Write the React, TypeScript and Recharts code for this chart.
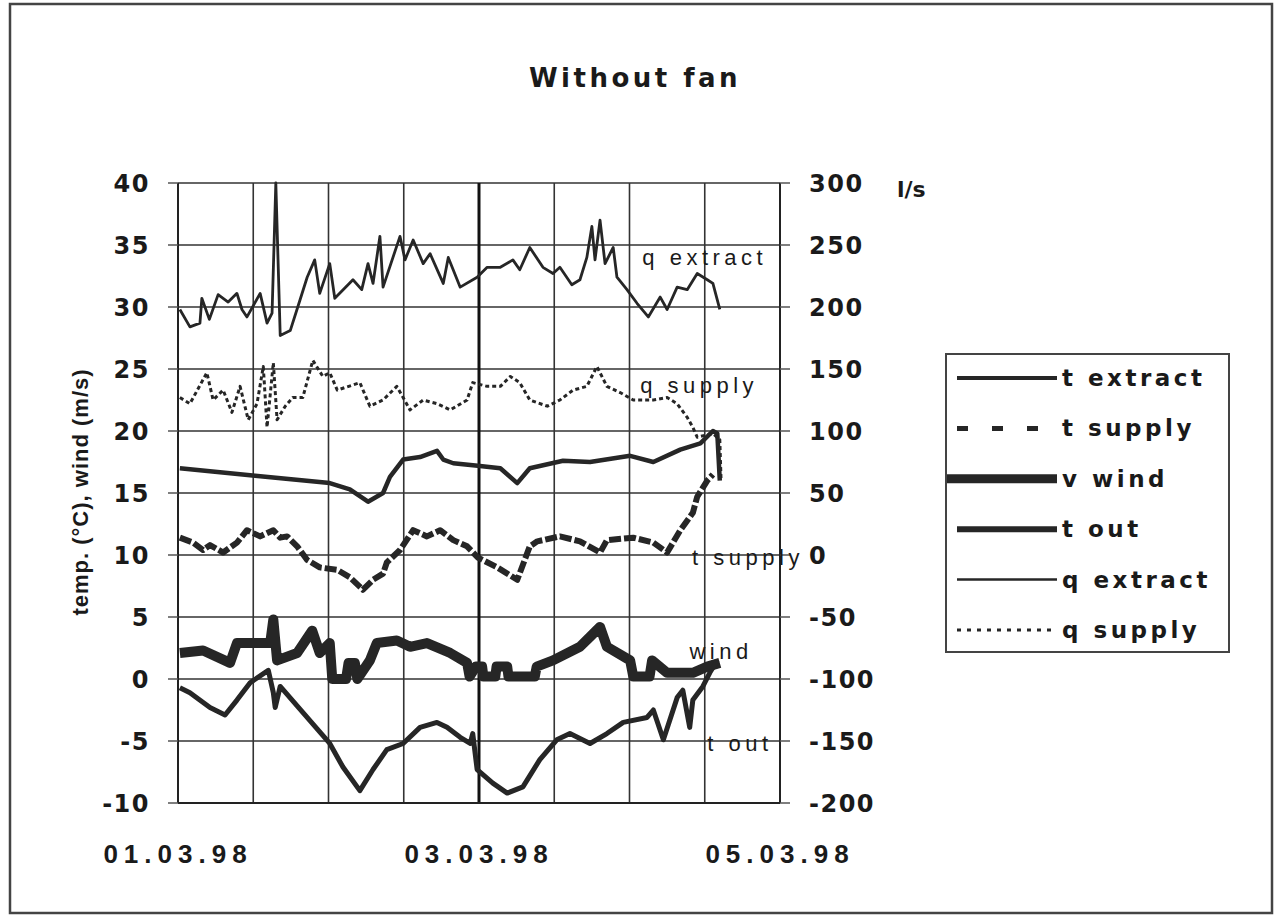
import React from 'react';
import {
  LineChart,
  Line,
  XAxis,
  YAxis,
  CartesianGrid,
  ReferenceLine,
  ReferenceDot,
  Legend,
} from 'recharts';

// ---- time axis (hours since 01.03.98 00:00) ----
const xTicks = [0, 12, 24, 36, 48, 60, 72, 84, 96];
const xTickLabels: Record<number, string> = { 0: '01.03.98', 48: '03.03.98', 96: '05.03.98' };
const leftTicks = [-10, -5, 0, 5, 10, 15, 20, 25, 30, 35, 40];
const rightTicks = [-200, -150, -100, -50, 0, 50, 100, 150, 200, 250, 300];

// ---- q extract (l/s, right axis) ----
const qExtractHours = [0.3, 1.9, 3.5, 3.8, 5.0, 6.4, 8.0, 9.4, 10.2, 11.0, 13.1, 14.2, 15.0, 15.6, 16.3, 17.9, 19.1, 20.6, 21.8, 22.6, 24.2, 25.0, 27.9, 29.3, 30.3, 31.1, 32.2, 32.7, 35.4, 36.2, 37.5, 39.1, 40.2, 42.3, 43.1, 45.0, 47.7, 49.3, 51.4, 53.4, 54.5, 56.1, 58.2, 59.8, 60.9, 62.8, 64.1, 65.2, 66.0, 66.5, 67.3, 68.1, 69.4, 70.0, 71.6, 73.2, 75.0, 76.9, 78.0, 79.6, 81.2, 82.8, 84.4, 85.3, 86.4];
const qExtractValues = [198, 184, 187, 207, 190, 210, 204, 211, 198, 192, 211, 187, 195, 300, 177, 181, 200, 224, 238, 211, 235, 207, 222, 214, 235, 219, 257, 216, 257, 238, 254, 235, 243, 219, 240, 216, 224, 232, 232, 238, 230, 248, 232, 227, 232, 218, 222, 240, 265, 238, 270, 235, 248, 224, 214, 203, 192, 208, 198, 216, 214, 227, 222, 219, 198];

// ---- q supply (l/s, right axis) ----
const qSupplyHours = [0.3, 1.9, 4.6, 5.6, 7.2, 8.6, 9.9, 11.2, 12.6, 13.6, 14.2, 15.2, 15.8, 17.1, 18.3, 19.9, 21.5, 23.1, 24.2, 25.4, 29.0, 30.6, 32.7, 34.9, 37.0, 39.1, 41.3, 43.4, 46.1, 47.0, 49.3, 51.4, 53.0, 54.5, 56.1, 58.9, 60.9, 63.0, 65.2, 66.8, 68.4, 70.5, 72.6, 75.8, 78.0, 79.6, 81.2, 82.1, 82.8, 85.3, 86.4, 86.6];
const qSupplyValues = [127, 122, 147, 125, 133, 115, 136, 109, 122, 152, 103, 155, 109, 120, 127, 127, 157, 144, 147, 133, 139, 120, 125, 136, 117, 125, 122, 117, 125, 139, 136, 136, 144, 139, 125, 120, 125, 133, 136, 152, 136, 131, 125, 125, 127, 122, 111, 103, 95, 98, 93, 60];

// ---- t extract (°C, left axis) ----
const tExtractHours = [0.3, 12.3, 24.2, 27.4, 30.3, 32.7, 33.8, 35.9, 38.6, 41.3, 42.3, 43.9, 47.8, 51.4, 54.1, 56.1, 61.4, 65.7, 72.1, 75.8, 80.1, 83.3, 85.3, 86.0, 86.4];
const tExtractValues = [17.0, 16.4, 15.8, 15.3, 14.3, 15.0, 16.3, 17.7, 17.9, 18.4, 17.7, 17.4, 17.2, 17.0, 15.8, 17.0, 17.6, 17.5, 18.0, 17.5, 18.5, 19.0, 20.0, 19.8, 16.0];

// ---- t supply (°C, left axis) ----
const tSupplyHours = [0.3, 2.4, 4.0, 5.1, 7.2, 9.4, 11.0, 13.1, 15.2, 16.3, 17.4, 19.0, 20.6, 22.6, 25.4, 27.4, 29.5, 31.1, 32.7, 33.3, 35.4, 37.5, 39.7, 41.8, 43.9, 46.1, 47.8, 50.9, 54.1, 56.1, 57.3, 60.9, 64.1, 67.3, 68.4, 72.6, 75.8, 78.0, 80.1, 82.1, 82.8, 84.4, 85.3];
const tSupplyValues = [11.4, 11.0, 10.4, 10.8, 10.2, 11.0, 12.0, 11.5, 12.0, 11.4, 11.5, 10.7, 9.6, 9.0, 8.8, 8.2, 7.2, 8.0, 8.5, 9.4, 10.4, 12.0, 11.5, 12.0, 11.2, 10.7, 9.8, 9.0, 8.0, 10.7, 11.1, 11.5, 11.1, 10.2, 11.2, 11.4, 11.0, 10.2, 12.0, 13.4, 14.7, 16.0, 16.5];

// ---- v wind (m/s, left axis) ----
const vWindHours = [0.3, 4.0, 8.3, 9.4, 14.7, 15.2, 15.8, 19.0, 21.4, 22.6, 24.2, 24.6, 26.8, 27.2, 28.2, 28.6, 30.6, 31.7, 34.9, 37.0, 39.7, 43.4, 46.1, 46.5, 47.5, 48.5, 48.7, 50.6, 50.8, 52.5, 52.7, 56.9, 57.2, 59.8, 64.1, 65.7, 67.3, 68.4, 72.1, 72.6, 75.2, 75.6, 78.0, 82.1, 84.4, 86.4];
const vWindValues = [2.1, 2.3, 1.3, 2.9, 2.9, 4.8, 1.5, 2.1, 3.9, 2.1, 2.9, 0.0, 0.0, 1.3, 1.3, 0.0, 1.5, 2.9, 3.1, 2.6, 2.9, 2.1, 1.3, 0.2, 1.0, 1.0, 0.2, 0.2, 1.0, 1.0, 0.2, 0.2, 1.0, 1.5, 2.6, 3.4, 4.2, 2.6, 1.5, 0.2, 0.2, 1.5, 0.5, 0.5, 1.0, 1.3];

// ---- t out (°C, left axis) ----
const tOutHours = [0.3, 1.9, 5.1, 7.5, 9.4, 11.5, 14.4, 15.2, 15.5, 16.3, 19.9, 24.2, 26.3, 29.0, 31.1, 33.3, 35.9, 38.6, 41.3, 42.9, 45.0, 46.6, 47.0, 47.7, 50.2, 52.5, 55.0, 57.7, 60.4, 62.5, 65.7, 68.4, 71.0, 74.8, 75.8, 77.4, 79.6, 80.5, 81.6, 82.1, 83.7, 84.8, 86.0];
const tOutValues = [-0.7, -1.1, -2.3, -2.9, -1.7, -0.3, 0.7, -1.1, -2.3, -0.6, -2.7, -5.2, -7.1, -9.0, -7.3, -5.7, -5.2, -3.9, -3.5, -3.9, -4.7, -5.2, -4.4, -7.3, -8.4, -9.2, -8.7, -6.5, -4.9, -4.4, -5.2, -4.4, -3.5, -3.1, -2.5, -4.9, -1.5, -0.9, -3.9, -1.7, -0.6, 0.5, 1.5];

// ---- in-plot series labels (hours, left-axis value) ----
const seriesLabelText = ['q extract', 'q supply', 't supply', 'wind', 't out'];
const seriesLabelHours = [84.0, 83.1, 90.9, 86.6, 89.6];
const seriesLabelValues = [34.0, 23.7, 9.8, 2.2, -5.2];

const zip = (h: number[], v: number[]) => h.map((x, i) => ({ h: x, v: v[i] }));

const INK = '#262626';
const LEGEND_W = 285;

type SeriesDef = {
  name: string;
  data: { h: number; v: number }[];
  axis: string;
  width: number;
  dash?: string;
  legendWidth: number;
  legendDash?: string;
  legendFrom: number;
};

const series: SeriesDef[] = [
  { name: 't extract', data: zip(tExtractHours, tExtractValues), axis: 'left', width: 4.5, legendWidth: 4, legendFrom: 12 },
  { name: 't supply', data: zip(tSupplyHours, tSupplyValues), axis: 'left', width: 6, dash: '12 3', legendWidth: 5, legendDash: '11 24', legendFrom: 12 },
  { name: 'v wind', data: zip(vWindHours, vWindValues), axis: 'left', width: 10, legendWidth: 9, legendFrom: 2 },
  { name: 't out', data: zip(tOutHours, tOutValues), axis: 'left', width: 5, legendWidth: 6, legendFrom: 12 },
  { name: 'q extract', data: zip(qExtractHours, qExtractValues), axis: 'right', width: 2.8, legendWidth: 2.5, legendFrom: 12 },
  { name: 'q supply', data: zip(qSupplyHours, qSupplyValues), axis: 'right', width: 3, dash: '4 3', legendWidth: 3, legendDash: '4 6', legendFrom: 12 },
];

const tickStyle = {
  fill: '#1a1a1a',
  fontSize: 24,
  fontFamily: 'DejaVu Sans',
  fontWeight: 'bold',
  letterSpacing: 1.5,
};

const LegendBox = () => (
  <svg width={LEGEND_W} height={300} style={{ display: 'block' }}>
    <rect x={1} y={1} width={LEGEND_W - 2} height={298} fill="#fff" stroke="#444" strokeWidth={2} />
    {series.map((s, i) => {
      const y = 25 + i * 50.4;
      return (
        <g key={s.name}>
          <line x1={s.legendFrom} x2={112} y1={y} y2={y} stroke={INK} strokeWidth={s.legendWidth} strokeDasharray={s.legendDash} />
          <text x={117} y={y} dominantBaseline="central" fontFamily="DejaVu Sans" fontWeight="bold" fontSize={23} letterSpacing={3.5} fill="#1a1a1a">
            {s.name}
          </text>
        </g>
      );
    })}
  </svg>
);

const PlotLabel = (props: any) => {
  const vb = props.viewBox || {};
  const x = (vb.x ?? 0) + (vb.width ?? 0) / 2;
  const y = (vb.y ?? 0) + (vb.height ?? 0) / 2;
  return (
    <text x={x} y={y} textAnchor="middle" dominantBaseline="central" fontFamily="Liberation Sans" fontSize={22} letterSpacing={4.5} fill="#1a1a1a">
      {props.value}
    </text>
  );
};

export default function App() {
  return (
    <div style={{ position: 'absolute', left: 0, top: 0, width: 1280, height: 916, background: '#fff' }}>
      <LineChart width={1280} height={916} margin={{ top: 183, right: 0, bottom: 0, left: 0 }}>
        <CartesianGrid yAxisId="left" stroke="#333" strokeWidth={1.6} />
        <XAxis
          dataKey="h"
          type="number"
          domain={[0, 96]}
          ticks={xTicks}
          interval={0}
          allowDuplicatedCategory={false}
          height={113}
          tickSize={0}
          tickLine={false}
          tickMargin={42}
          axisLine={{ stroke: '#222', strokeWidth: 2 }}
          tickFormatter={(v: number) => xTickLabels[v] ?? ''}
          tick={{ fill: '#1a1a1a', fontSize: 26, fontFamily: 'Liberation Sans', fontWeight: 'bold', letterSpacing: 6 }}
        />
        <YAxis
          yAxisId="left"
          orientation="left"
          domain={[-10, 40]}
          ticks={leftTicks}
          interval={0}
          width={178}
          tickSize={10}
          tickMargin={18}
          axisLine={{ stroke: '#222', strokeWidth: 2 }}
          tickLine={{ stroke: '#555', strokeWidth: 1.5 }}
          tick={tickStyle}
        />
        <YAxis
          yAxisId="right"
          orientation="right"
          domain={[-200, 300]}
          ticks={rightTicks}
          interval={0}
          width={500 - LEGEND_W}
          tickSize={10}
          tickMargin={19}
          axisLine={{ stroke: '#222', strokeWidth: 2 }}
          tickLine={{ stroke: '#555', strokeWidth: 1.5 }}
          tick={tickStyle}
        />
        <ReferenceLine yAxisId="left" x={48} stroke="#111" strokeWidth={3} />
        {series.map((s) => (
          <Line
            key={s.name}
            name={s.name}
            data={s.data}
            dataKey="v"
            yAxisId={s.axis}
            type="linear"
            stroke={INK}
            strokeWidth={s.width}
            strokeDasharray={s.dash}
            strokeLinejoin="round"
            dot={false}
            activeDot={false}
            isAnimationActive={false}
          />
        ))}
        {seriesLabelText.map((t, i) => (
          <ReferenceDot
            key={t}
            yAxisId="left"
            x={seriesLabelHours[i]}
            y={seriesLabelValues[i]}
            r={1}
            fill="none"
            stroke="none"
            ifOverflow="visible"
            label={<PlotLabel value={t} />}
          />
        ))}
        <Legend
          layout="horizontal"
          verticalAlign="middle"
          align="right"
          content={() => <LegendBox />}
          wrapperStyle={{ position: 'absolute', left: 945, top: 353, width: LEGEND_W, height: 300 }}
        />
      </LineChart>
      <svg width={1280} height={916} style={{ position: 'absolute', left: 0, top: 0, pointerEvents: 'none' }}>
        <rect x={10} y={4} width={1262} height={909} fill="none" stroke="#444" strokeWidth={2.5} />
        <text x={635} y={87} textAnchor="middle" fontFamily="DejaVu Sans" fontWeight="bold" fontSize={26} letterSpacing={3.5} fill="#1a1a1a">
          Without fan
        </text>
        <text
          x={80}
          y={492}
          textAnchor="middle"
          dominantBaseline="central"
          transform="rotate(-90 80 492)"
          fontFamily="Liberation Sans"
          fontWeight="bold"
          fontSize={22}
          letterSpacing={1}
          fill="#1a1a1a"
        >
          temp. (°C),  wind  (m/s)
        </text>
        <text x={897} y={197} fontFamily="DejaVu Sans" fontWeight="bold" fontSize={22} fill="#1a1a1a">
          l/s
        </text>
      </svg>
    </div>
  );
}
